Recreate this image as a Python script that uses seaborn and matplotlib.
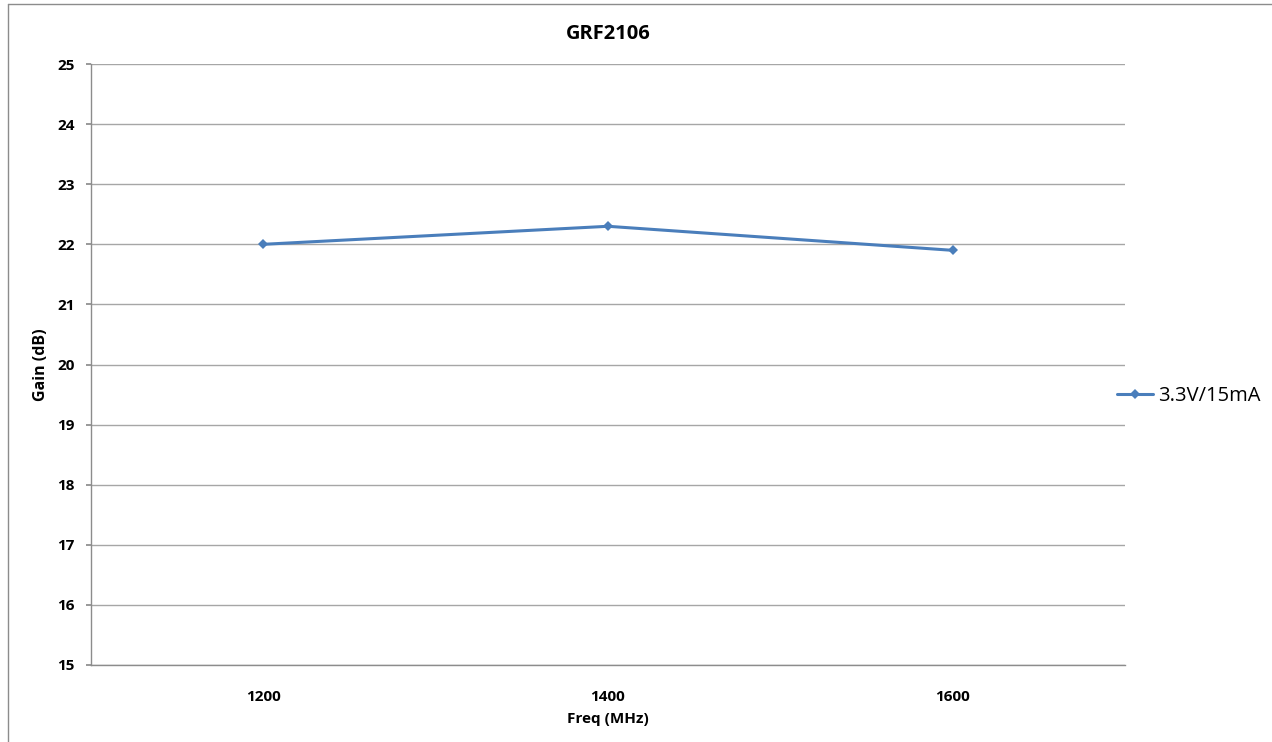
import matplotlib
matplotlib.use("Agg")
import matplotlib.pyplot as plt
import seaborn as sns
import pandas as pd
from matplotlib.lines import Line2D

# data
freqs = ["1200", "1400", "1600"]
gain = [22.0, 22.3, 21.9]
series_name = "3.3V/15mA"
y_ticks = list(range(15, 26))

sns.set_theme(style="white")
plt.rcParams["font.family"] = ["Open Sans", "DejaVu Sans"]
plt.rcParams["text.color"] = "black"
plt.rcParams["xtick.color"] = "black"
plt.rcParams["ytick.color"] = "black"
plt.rcParams["axes.labelcolor"] = "black"

df = pd.DataFrame({"Freq": freqs, "Gain": gain})

fig = plt.figure(figsize=(12.72, 7.42), dpi=100)
ax = fig.add_axes([0.0715, 0.1038, 0.8129, 0.8099])

line_color = "#4A7EBB"
sns.lineplot(data=df, x="Freq", y="Gain", ax=ax, color=line_color, linewidth=2.2,
             marker="D", markersize=5.5, markeredgewidth=0, label=series_name, sort=False)

ax.set_xlim(-0.5, 2.5)
ax.set_ylim(15, 25)
ax.set_yticks(y_ticks)
ax.yaxis.grid(True, color="#A6A6A6", linewidth=1)
ax.set_axisbelow(True)
for side in ["top", "right"]:
    ax.spines[side].set_visible(False)
for side in ["left", "bottom"]:
    ax.spines[side].set_color("#8C8C8C")
    ax.spines[side].set_linewidth(1)
ax.tick_params(axis="y", left=True, length=3.6, color="#8C8C8C", pad=8, labelsize=11)
ax.tick_params(axis="x", bottom=False, pad=12, labelsize=11)
for lbl in ax.get_xticklabels() + ax.get_yticklabels():
    lbl.set_fontweight("bold")

ax.set_xlabel("Freq (MHz)", fontsize=11, fontweight="bold", labelpad=6)
ax.set_ylabel("Gain (dB)", fontsize=11.5, fontweight="bold", labelpad=6)
ax.set_title("GRF2106", fontsize=14.5, fontweight="bold", pad=18)

handle = Line2D([], [], color=line_color, linewidth=2.2, marker="D", markersize=5.5,
                markeredgewidth=0)
ax.legend([handle], [series_name], loc="center left", frameon=False,
          bbox_to_anchor=(0.864, 0.466), bbox_transform=fig.transFigure,
          fontsize=14.5, handlelength=1.8, handletextpad=0.25, labelcolor="black")

# outer chart border (top and left edges visible)
fig.add_artist(Line2D([8 / 1272, 8 / 1272], [0, 1 - 4 / 742], transform=fig.transFigure,
                      color="#8C8C8C", linewidth=1))
fig.add_artist(Line2D([8 / 1272, 1], [1 - 4 / 742, 1 - 4 / 742], transform=fig.transFigure,
                      color="#8C8C8C", linewidth=1))

fig.savefig("out.png", dpi=100)
